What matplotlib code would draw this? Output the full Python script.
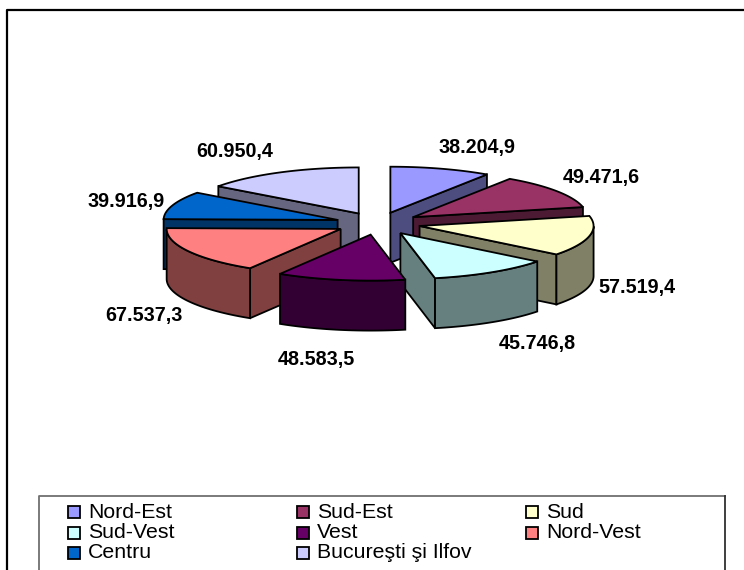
import matplotlib
matplotlib.use('Agg')
import matplotlib.pyplot as plt
import numpy as np
from matplotlib.patches import Polygon, Rectangle

regions = ['Nord-Est', 'Sud-Est', 'Sud', 'Sud-Vest', 'Vest', 'Nord-Vest', 'Centru', 'Bucureşti şi Ilfov']
values = [38204.9, 49471.6, 57519.4, 45746.8, 48583.5, 67537.3, 39916.9, 60950.4]
value_labels = ['38.204,9', '49.471,6', '57.519,4', '45.746,8', '48.583,5', '67.537,3', '39.916,9', '60.950,4']
colors = ['#9999FF', '#993366', '#FFFFCC', '#CCFFFF', '#660066', '#FF8080', '#0066CC', '#CCCCFF']

# pie geometry, in image pixels
CX, CY = 378, 223.5
RX, RY = 174, 46
EXPLODE = 0.245
DEPTH = 50
DRAW_ORDER = [0, 7, 1, 6, 2, 5, 3, 4]
LABEL_POS = [(477, 148), (601, 177), (637, 288), (537, 344), (316, 360), (144, 316), (126, 201), (235, 152)]

plt.rcParams['font.family'] = ['Liberation Sans', 'DejaVu Sans']


def shade(color):
  r, g, b = matplotlib.colors.to_rgb(color)
  return (r / 2, g / 2, b / 2)


def draw_slice(ax, start, end, color, zorder):
  mid = (start + end) / 2
  ax0 = CX + EXPLODE * RX * np.sin(mid)
  ay0 = CY - EXPLODE * RY * np.cos(mid)
  th = np.linspace(start, end, 40)
  rim = np.column_stack([ax0 + RX * np.sin(th), ay0 - RY * np.cos(th)])
  apex = np.array([ax0, ay0])
  down = np.array([0, DEPTH])

  # cut faces, then the part of the rim that faces the viewer
  for a, b in ((apex, rim[0]), (rim[-1], apex)):
    if b[0] < a[0]:
      quad = [a, b, b + down, a + down]
      ax.add_patch(Polygon(quad, closed=True, facecolor=shade(color), edgecolor='black', linewidth=1.3, zorder=zorder))
  front = rim[np.cos(th) <= 0]
  if len(front) > 1:
    side = np.vstack([front, (front + down)[::-1]])
    ax.add_patch(Polygon(side, closed=True, facecolor=shade(color), edgecolor='black', linewidth=1.3, zorder=zorder))
  top = np.vstack([apex, rim])
  ax.add_patch(Polygon(top, closed=True, facecolor=color, edgecolor='black', linewidth=1.3, zorder=zorder))


def draw_figure():
  fig = plt.figure(figsize=(7.44, 5.70), dpi=100)
  ax = fig.add_axes([0, 0, 1, 1])
  ax.set_xlim(0, 744)
  ax.set_ylim(570, 0)
  ax.axis('off')

  # outer chart frame, only the left and top edges are inside the image
  ax.plot([6.5, 6.5, 744], [570, 9.5, 9.5], color='black', linewidth=1.6, zorder=1)

  edges = np.concatenate([[0], np.cumsum(values)]) / np.sum(values) * 2 * np.pi
  for order, i in enumerate(DRAW_ORDER):
    draw_slice(ax, edges[i], edges[i + 1], colors[i], 3 + order)

  for txt, pos in zip(value_labels, LABEL_POS):
    ax.text(pos[0], pos[1], txt, fontsize=14.2, fontweight='bold', ha='center', va='center', zorder=20)

  # legend box, runs off the bottom of the image
  ax.plot([39, 39, 725], [570, 496, 496], color='#707070', linewidth=1.3, zorder=15)
  ax.plot([725, 725], [496, 570], color='#303030', linewidth=1.3, zorder=15)
  for i, name in enumerate(regions):
    col = i % 3
    row = i // 3
    x = 68 + 229 * col
    y = 512 + 20.5 * row
    ax.add_patch(Rectangle((x, y - 6), 12, 12, facecolor=colors[i], edgecolor='black', linewidth=1.3, zorder=16))
    ax.text(x + 20, y, name, fontsize=15.3, ha='left', va='center', zorder=16)

  fig.savefig('out.png', dpi=100)


if __name__ == "__main__":
  draw_figure()
